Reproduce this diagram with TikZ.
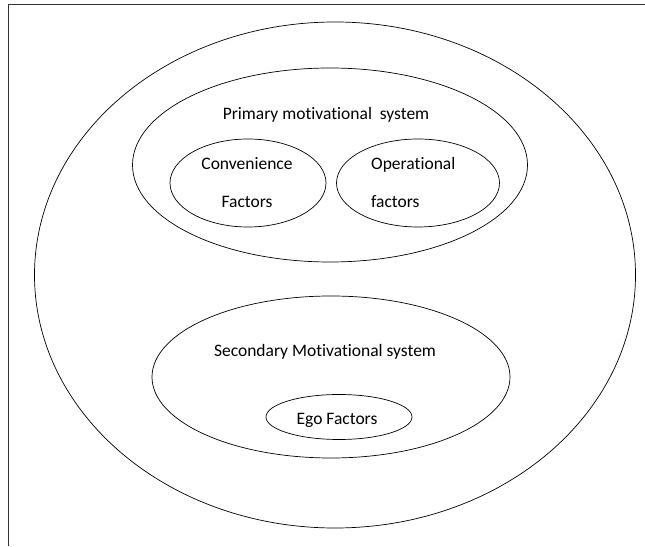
\documentclass[tikz,border=0pt]{standalone}
\usepackage{fontspec}
\setmainfont[Ligatures=NoCommon]{Carlito}
\usetikzlibrary{shapes.geometric,positioning}

\begin{document}
\begin{tikzpicture}[x=1pt,y=1pt,font=\fontsize{17.5}{21}\selectfont,
  oval/.style={draw,ellipse,inner sep=0pt,line width=0.7pt},
  txt/.style={inner sep=0pt,anchor=base}]
  \useasboundingbox (0,0) rectangle (645,546);
  \coordinate(corner) at (8,541);
  \coordinate(topend) at (645,541);
  \coordinate(leftend) at (8,0);
  \draw[line width=1pt,black!80] (leftend) -- (corner) -- (topend);
  % outer system
  \node(outer)[oval,minimum width=601,minimum height=506] at (335,271){};
  % primary system
  \node(primary)[oval,minimum width=395,minimum height=194] at (330,381){};
  \node(primarytxt)[txt] at (326,426){Primary motivational\ \ system};
  \node(conv)[oval,minimum width=156,minimum height=88] at (248,363){};
  \node(convtxt)[txt] at (247,376){Convenience};
  \node(convtxtb)[txt] at (247,338){Factors};
  \node(oper)[oval,minimum width=163,minimum height=88] at (418,363){};
  \node(opertxt)[txt,anchor=base west] at (371,376){Operational};
  \node(opertxtb)[txt,anchor=base west] at (371,338){factors};
  % secondary system
  \node(secondary)[oval,minimum width=358,minimum height=162] at (331,169){};
  \node(secondarytxt)[txt] at (325,189){Secondary Motivational system};
  \node(ego)[oval,minimum width=146,minimum height=45] at (339,129){};
  \node(egotxt)[txt] at (337,121){Ego Factors};
\end{tikzpicture}
\end{document}
